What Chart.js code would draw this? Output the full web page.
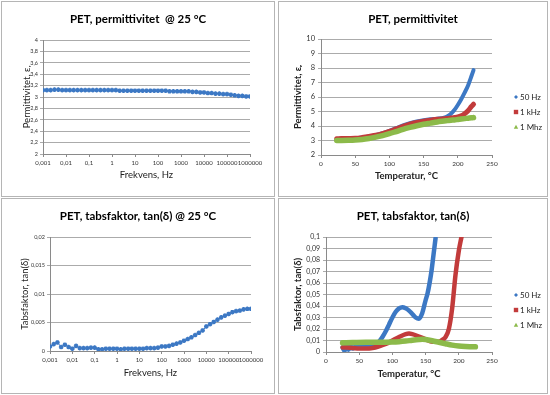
<!DOCTYPE html>
<html>
<head>
<meta charset="utf-8">
<script src="https://cdn.jsdelivr.net/npm/chart.js@4.4.1/dist/chart.umd.min.js"></script>
<style>
	body { margin: 0; background: #fff; width: 550px; height: 395px; position: relative; overflow: hidden; }
	.panel { position: absolute; border: 1px solid #b5b5b5; background: #fff; }
	.panel canvas { display: block; }
</style>
</head>
<body>
<div class="panel" style="left:1px;top:1px;width:272px;height:194px"><canvas id="c1" width="272" height="194"></canvas></div>
<div class="panel" style="left:278px;top:1px;width:268px;height:194px"><canvas id="c2" width="268" height="194"></canvas></div>
<div class="panel" style="left:1px;top:198px;width:272px;height:194px"><canvas id="c3" width="272" height="194"></canvas></div>
<div class="panel" style="left:278px;top:198px;width:268px;height:194px"><canvas id="c4" width="268" height="194"></canvas></div>
<script>
// frequency sweep @ 25 °C
const freqHz = [
	0.001, 0.00147, 0.00215, 0.00316, 0.00464, 0.00681,
	0.01, 0.0147, 0.0215, 0.0316, 0.0464, 0.0681,
	0.1, 0.147, 0.215, 0.316, 0.464, 0.681,
	1, 1.47, 2.15, 3.16, 4.64, 6.81,
	10, 14.7, 21.5, 31.6, 46.4, 68.1,
	100, 147, 215, 316, 464, 681,
	1000, 1470, 2150, 3160, 4640, 6810,
	10000, 14700, 21500, 31600, 46400, 68100,
	100000, 147000, 215000, 316000, 464000, 681000,
	1000000
];
const permFreq = [
	3.12, 3.12, 3.12, 3.13, 3.13, 3.12,
	3.12, 3.12, 3.12, 3.12, 3.12, 3.12,
	3.12, 3.12, 3.12, 3.12, 3.12, 3.12,
	3.12, 3.12, 3.11, 3.11, 3.11, 3.11,
	3.11, 3.11, 3.11, 3.11, 3.11, 3.11,
	3.11, 3.11, 3.11, 3.10, 3.10, 3.10,
	3.10, 3.10, 3.10, 3.09, 3.09, 3.08,
	3.08, 3.07, 3.07, 3.06, 3.06, 3.05,
	3.05, 3.04, 3.03, 3.02, 3.02, 3.01,
	3.01
];
const tanFreq = [
	0.0008, 0.0012, 0.0015, 0.0007, 0.0011, 0.0007,
	0.0004, 0.0009, 0.0005, 0.0005, 0.0005, 0.0006,
	0.0006, 0.0003, 0.0003, 0.0004, 0.0004, 0.0004,
	0.0004, 0.0003, 0.0004, 0.0004, 0.0004, 0.0004,
	0.0004, 0.0004, 0.0005, 0.0005, 0.0005, 0.0006,
	0.0008, 0.0008, 0.0009, 0.0011, 0.0013, 0.0015,
	0.0018, 0.0021, 0.0024, 0.0028, 0.0032, 0.0036,
	0.0043, 0.0047, 0.0051, 0.0055, 0.0059, 0.0062,
	0.0065, 0.0068, 0.0070, 0.0071, 0.0073, 0.0074,
	0.0074
];
const decadeTicks = [0.001, 0.01, 0.1, 1, 10, 100, 1000, 10000, 100000, 1000000];

// temperature sweep, permittivity
const tempPerm = [23, 30, 40, 50, 60, 70, 80, 90, 100, 110, 120, 130, 140, 150, 160, 170, 180, 185, 190, 195, 200, 205, 210, 215, 220, 223];
const perm50Hz = [3.10, 3.12, 3.13, 3.15, 3.20, 3.28, 3.37, 3.50, 3.66, 3.85, 4.05, 4.20, 4.32, 4.40, 4.46, 4.50, 4.58, 4.68, 4.85, 5.10, 5.45, 5.85, 6.30, 6.80, 7.45, 7.85];
const perm1kHz = [3.12, 3.13, 3.14, 3.15, 3.20, 3.27, 3.36, 3.48, 3.63, 3.80, 3.97, 4.12, 4.24, 4.33, 4.40, 4.46, 4.50, 4.52, 4.55, 4.58, 4.62, 4.70, 4.85, 5.05, 5.35, 5.50];
const perm1MHz = [3.00, 3.00, 3.01, 3.03, 3.07, 3.14, 3.23, 3.34, 3.47, 3.62, 3.77, 3.90, 4.02, 4.12, 4.20, 4.28, 4.34, 4.37, 4.40, 4.42, 4.45, 4.48, 4.51, 4.54, 4.57, 4.58];

// temperature sweep, loss factor
const tempTan50Hz = [25, 28, 31, 34, 37, 40, 45, 50, 55, 60, 65, 70, 75, 80, 85, 90, 95, 100, 105, 110, 115, 120, 125, 130, 135, 140, 145, 150, 153, 156, 159, 162, 165];
const tan50Hz = [0.004, 0.001, 0.006, 0.002, 0.005, 0.003, 0.005, 0.005, 0.005, 0.005, 0.005, 0.006, 0.007, 0.009, 0.013, 0.018, 0.024, 0.030, 0.035, 0.038, 0.039, 0.038, 0.036, 0.033, 0.030, 0.029, 0.034, 0.045, 0.051, 0.060, 0.071, 0.085, 0.099];
const tempTan1kHz = [25, 30, 40, 50, 60, 70, 80, 90, 100, 110, 120, 125, 130, 140, 150, 160, 170, 175, 180, 185, 190, 195, 200, 204];
const tan1kHz = [0.004, 0.004, 0.0035, 0.003, 0.003, 0.0035, 0.005, 0.007, 0.010, 0.013, 0.0155, 0.016, 0.0155, 0.0135, 0.011, 0.009, 0.009, 0.0105, 0.013, 0.020, 0.038, 0.067, 0.088, 0.100];
const tempTan1MHz = [25, 40, 60, 80, 100, 110, 120, 130, 140, 145, 150, 160, 170, 180, 190, 200, 210, 220, 225];
const tan1MHz = [0.0080, 0.0083, 0.0085, 0.0085, 0.0087, 0.0090, 0.0095, 0.0102, 0.0108, 0.0110, 0.0108, 0.0098, 0.0085, 0.0072, 0.0060, 0.0052, 0.0048, 0.0046, 0.0045];

const seriesNames = ['50 Hz', '1 kHz', '1 Mhz'];

const FONT = 'Lato, "DejaVu Sans", sans-serif';
const BLUE = '#3c78c4', RED = '#c23b3b', GREEN = '#8cba4a';

const pts = (xs, ys) => xs.map((x, i) => ({ x: x, y: ys[i] }));
const comma = v => String(+Number(v).toFixed(4)).replace('.', ',');

// small legend on the right, Excel style
const sideLegend = {
	id: 'sideLegend',
	afterDraw(chart, args, o) {
		const ctx = chart.ctx;
		ctx.save();
		ctx.font = '8px ' + FONT;
		ctx.textBaseline = 'middle';
		chart.data.datasets.forEach((ds, i) => {
			const x = o.x, y = o.y + i * o.gap;
			ctx.fillStyle = ds.borderColor;
			ctx.beginPath();
			if (i === 0) {
				ctx.moveTo(x, y - 2); ctx.lineTo(x + 2, y); ctx.lineTo(x, y + 2); ctx.lineTo(x - 2, y);
			} else if (i === 1) {
				ctx.rect(x - 2.2, y - 2.2, 4.4, 4.4);
			} else {
				ctx.moveTo(x, y - 2.2); ctx.lineTo(x + 2.2, y + 1.8); ctx.lineTo(x - 2.2, y + 1.8);
			}
			ctx.closePath();
			ctx.fill();
			ctx.fillStyle = '#222';
			ctx.fillText(ds.label, x + 4, y + 0.5);
		});
		ctx.restore();
	}
};

function makePanel(id, p) {
	const canvas = document.getElementById(id);
	const W = canvas.width, H = canvas.height, a = p.area;
	const axisFont = { family: FONT, size: 9.5, weight: p.boldAxis ? 'bold' : 'normal', lineHeight: 1.2 };
	const half = 9.5 * 1.2 / 2;
	return new Chart(canvas, {
		type: 'scatter',
		data: { datasets: p.datasets },
		plugins: p.legend ? [sideLegend] : [],
		options: {
			responsive: false,
			animation: false,
			devicePixelRatio: 1,
			layout: { padding: 0 },
			plugins: {
				legend: { display: false },
				tooltip: { enabled: false },
				title: {
					display: true,
					text: p.title,
					color: '#000',
					font: { family: FONT, size: 11.5, weight: 'bold', lineHeight: 1.2 },
					padding: { top: 10, bottom: a.t - 10 - 13.8 }
				},
				sideLegend: p.legend || false
			},
			scales: {
				x: Object.assign({
					title: { display: true, text: p.xTitle, color: '#222', font: axisFont, padding: { top: 0, bottom: H - p.xTitleY - half } },
					grid: { drawOnChartArea: false, drawTicks: true, tickLength: 3, color: '#8a8a8a' },
					border: { color: '#8a8a8a' },
					// pin the plot box: bottom by height, right edge by padding
					afterFit: s => { s.height = H - a.b; s.paddingRight = W - a.r; }
				}, p.x),
				y: Object.assign({
					title: { display: true, text: p.yTitle, color: '#222', font: axisFont, padding: { top: p.yTitleX - half, bottom: 0 } },
					grid: { color: '#ababab', tickLength: 3 },
					border: { color: '#8a8a8a' },
					afterFit: s => { s.width = a.l; }
				}, p.y)
			}
		}
	});
}

const logX = {
	type: 'logarithmic',
	min: 0.001,
	max: 1000000,
	afterBuildTicks: s => { s.ticks = decadeTicks.map(v => ({ value: v })); },
	ticks: { color: '#333', font: { family: FONT, size: 6 }, padding: 2, maxRotation: 0, autoSkip: false, callback: v => String(v).replace('.', ',') }
};
const tempX = {
	type: 'linear',
	min: 0,
	max: 250,
	ticks: { stepSize: 50, color: '#333', font: { family: FONT, size: 6.5 }, padding: 2, maxRotation: 0, autoSkip: false }
};

const freqSet = ys => ({
	data: pts(freqHz, ys),
	showLine: true,
	borderColor: BLUE,
	backgroundColor: BLUE,
	borderWidth: 1,
	pointStyle: 'star',
	pointRadius: 2.3,
	pointBorderWidth: 1.4
});
const tempSet = (label, xs, ys, color, width, order) => ({
	label: label,
	data: pts(xs, ys),
	showLine: true,
	borderColor: color,
	backgroundColor: color,
	borderWidth: width,
	borderCapStyle: 'round',
	pointRadius: 0,
	cubicInterpolationMode: 'monotone',
	order: order
});

makePanel('c1', {
	area: { l: 41, r: 248, t: 38, b: 152 },
	title: 'PET, permittivitet  @ 25 °C',
	xTitle: 'Frekvens, Hz', xTitleY: 173,
	yTitle: 'Permittivitet, εᵣ', yTitleX: 25,
	x: logX,
	y: { min: 2, max: 4, ticks: { stepSize: 0.2, autoSkip: false, color: '#333', font: { family: FONT, size: 5.5 }, padding: 2, callback: comma } },
	datasets: [freqSet(permFreq)]
});

makePanel('c2', {
	area: { l: 42, r: 213, t: 37, b: 153 },
	title: 'PET, permittivitet',
	boldAxis: true,
	xTitle: 'Temperatur, °C', xTitleY: 174,
	yTitle: 'Permittivitet, εᵣ', yTitleX: 19,
	x: tempX,
	y: { min: 2, max: 10, ticks: { stepSize: 1, autoSkip: false, color: '#333', font: { family: FONT, size: 7.5 }, padding: 3 } },
	datasets: [
		tempSet(seriesNames[0], tempPerm, perm50Hz, BLUE, 4, 3),
		tempSet(seriesNames[1], tempPerm, perm1kHz, RED, 5, 2),
		tempSet(seriesNames[2], tempPerm, perm1MHz, GREEN, 5.5, 1)
	],
	legend: { x: 237, y: 95, gap: 15 }
});

makePanel('c3', {
	area: { l: 48, r: 249, t: 38, b: 152 },
	title: 'PET, tabsfaktor, tan(δ) @ 25 °C',
	xTitle: 'Frekvens, Hz', xTitleY: 174,
	yTitle: 'Tabsfaktor, tan(δ)', yTitleX: 23,
	x: logX,
	y: { min: 0, max: 0.02, ticks: { stepSize: 0.005, autoSkip: false, color: '#333', font: { family: FONT, size: 5.5 }, padding: 2, callback: comma } },
	datasets: [freqSet(tanFreq)]
});

makePanel('c4', {
	area: { l: 47, r: 213, t: 38, b: 153 },
	title: 'PET, tabsfaktor, tan(δ)',
	boldAxis: true,
	xTitle: 'Temperatur, °C', xTitleY: 175,
	yTitle: 'Tabsfaktor, tan(δ)', yTitleX: 19,
	x: tempX,
	y: { min: 0, max: 0.1, ticks: { stepSize: 0.01, autoSkip: false, color: '#333', font: { family: FONT, size: 7 }, padding: 3, callback: comma } },
	datasets: [
		tempSet(seriesNames[0], tempTan50Hz, tan50Hz, BLUE, 4.5, 3),
		tempSet(seriesNames[1], tempTan1kHz, tan1kHz, RED, 4.5, 2),
		tempSet(seriesNames[2], tempTan1MHz, tan1MHz, GREEN, 5.5, 1)
	],
	legend: { x: 237, y: 96, gap: 15 }
});
</script>
</body>
</html>
